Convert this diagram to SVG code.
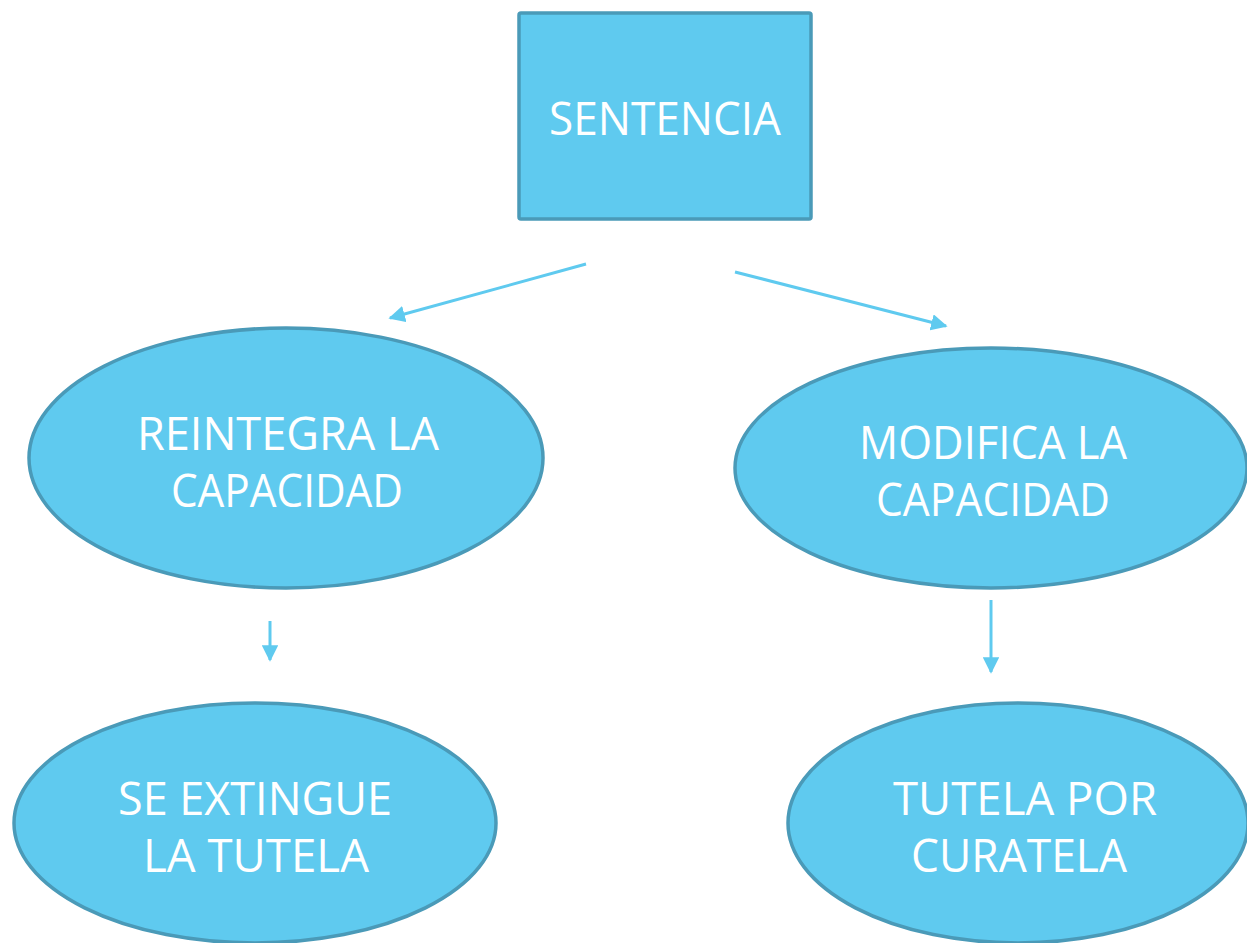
<svg xmlns="http://www.w3.org/2000/svg" width="1247" height="943" viewBox="0 0 1247 943">
<defs>
<style>
.node{fill:#5FCAEF;stroke:#4A9AB8;stroke-width:3.5}
.lbl{fill:#FFFFFF;font-family:"Open Sans","Noto Sans","DejaVu Sans",sans-serif;font-size:46px;text-anchor:middle}
.conn{stroke:#5FCAEF;stroke-width:3;fill:none}
</style>
<marker id="ah" viewBox="0 0 10 10" refX="9" refY="5" markerWidth="5.5" markerHeight="5.5" markerUnits="strokeWidth" orient="auto">
<path d="M0,0 L10,5 L0,10 z" fill="#5FCAEF"/>
</marker>
</defs>
<rect width="1247" height="943" fill="#FFFFFF"/>
<g id="connectors">
<line class="conn" x1="586" y1="264" x2="390" y2="318" marker-end="url(#ah)"/>
<line class="conn" x1="735" y1="272" x2="946" y2="326" marker-end="url(#ah)"/>
<line class="conn" x1="270" y1="621" x2="270" y2="660" marker-end="url(#ah)"/>
<line class="conn" x1="991" y1="600" x2="991" y2="672" marker-end="url(#ah)"/>
</g>
<g id="sentencia">
<rect class="node" x="519" y="13" width="292" height="206" rx="2"/>
<text class="lbl" x="665" y="135" textLength="232" lengthAdjust="spacingAndGlyphs">SENTENCIA</text>
</g>
<g id="reintegra">
<ellipse class="node" cx="286" cy="458" rx="257" ry="130"/>
<text class="lbl" x="288" y="450" textLength="302" lengthAdjust="spacingAndGlyphs">REINTEGRA LA</text>
<text class="lbl" x="287" y="507" textLength="232" lengthAdjust="spacingAndGlyphs">CAPACIDAD</text>
</g>
<g id="modifica">
<ellipse class="node" cx="991" cy="468" rx="256" ry="120"/>
<text class="lbl" x="993" y="459" textLength="268" lengthAdjust="spacingAndGlyphs">MODIFICA LA</text>
<text class="lbl" x="993" y="516" textLength="234" lengthAdjust="spacingAndGlyphs">CAPACIDAD</text>
</g>
<g id="extingue">
<ellipse class="node" cx="255" cy="823" rx="241" ry="120"/>
<text class="lbl" x="255" y="815" textLength="274" lengthAdjust="spacingAndGlyphs">SE EXTINGUE</text>
<text class="lbl" x="256" y="872" textLength="226" lengthAdjust="spacingAndGlyphs">LA TUTELA</text>
</g>
<g id="curatela">
<ellipse class="node" cx="1018" cy="823" rx="230" ry="120"/>
<text class="lbl" x="1025" y="815" textLength="264" lengthAdjust="spacingAndGlyphs">TUTELA POR</text>
<text class="lbl" x="1019" y="872" textLength="216" lengthAdjust="spacingAndGlyphs">CURATELA</text>
</g>
</svg>
